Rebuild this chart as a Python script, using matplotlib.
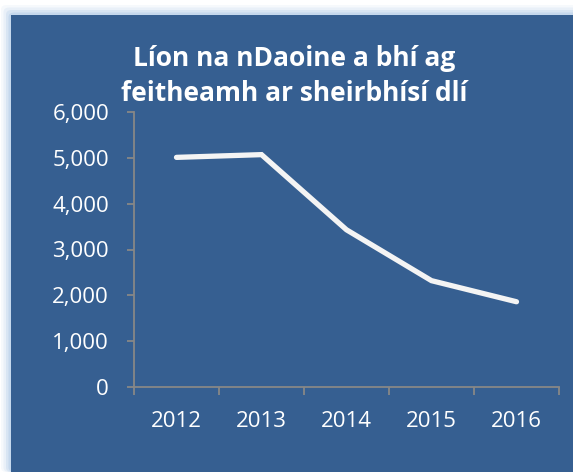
import matplotlib.pyplot as plt
from matplotlib.patches import FancyBboxPatch

# data
years = ['2012', '2013', '2014', '2015', '2016']
waiting = [5010, 5070, 3430, 2320, 1860]
y_ticks = [0, 1000, 2000, 3000, 4000, 5000, 6000]
title = 'Líon na nDaoine a bhí ag\nfeitheamh ar sheirbhísí dlí'

bg = '#365f91'
W, H = 573, 472

plt.rcParams['font.family'] = ['Open Sans', 'DejaVu Sans']

fig = plt.figure(figsize=(W / 100, H / 100), dpi=100)
fig.patch.set_facecolor('white')

# soft glow round the panel
for i, a in enumerate([0.08, 0.12, 0.18, 0.25]):
    off = (4 - i) * 2.5
    glow = FancyBboxPatch(((11 - off) / W, 0), (W + 20) / W, (H - 15 + off) / H,
                          boxstyle='round,pad=0,rounding_size=0.01',
                          transform=fig.transFigure, facecolor='#8fb3de',
                          edgecolor='none', alpha=a, zorder=0)
    fig.patches.append(glow)

panel = plt.Rectangle((11 / W, -0.1), 1.2, (H - 15) / H + 0.1,
                      transform=fig.transFigure, facecolor=bg,
                      edgecolor='none', zorder=1)
fig.patches.append(panel)

ax = fig.add_axes([134 / W, 85 / H, 425 / W, 275 / H])
ax.set_facecolor('none')
ax.set_zorder(5)

x = list(range(len(years)))
ax.plot(x, waiting, color='#f4f4f4', lw=3.8, solid_capstyle='round',
        solid_joinstyle='miter', zorder=3)

ax.set_xlim(-0.5, len(years) - 0.5)
ax.set_ylim(0, 6000)
ax.set_yticks(y_ticks)
ax.set_yticklabels([f'{v:,}' for v in y_ticks])
ax.set_xticks(x)
ax.set_xticklabels(years)
ax.set_xticks([i - 0.5 for i in range(len(years) + 1)], minor=True)

for s in ['top', 'right']:
    ax.spines[s].set_visible(False)
for s in ['left', 'bottom']:
    ax.spines[s].set_color('#878787')
    ax.spines[s].set_linewidth(1.3)

ax.tick_params(axis='y', colors='#878787', labelcolor='white', labelsize=16,
               length=5, width=1.3, pad=13)
ax.tick_params(axis='x', which='major', length=0, labelcolor='white',
               labelsize=16, pad=17)
ax.tick_params(axis='x', which='minor', colors='#878787', length=6, width=1.3)

fig.text(294 / W, 1 - 76 / H, title, ha='center', va='center', color='white',
         fontsize=19, fontweight='bold', linespacing=1.42, zorder=6)

fig.savefig('out.png', dpi=100)
